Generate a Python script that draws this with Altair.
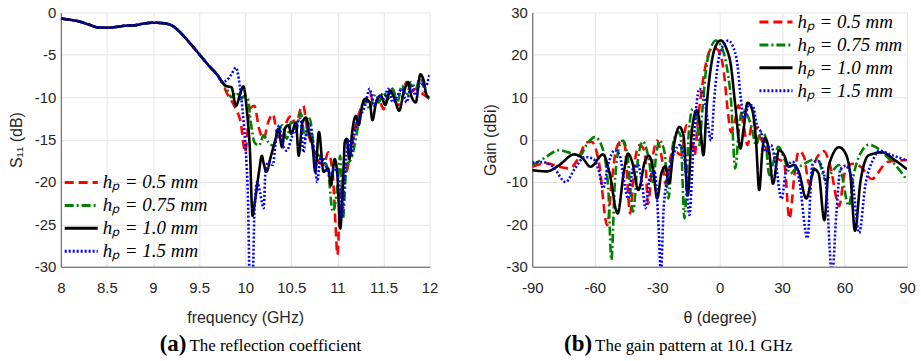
import altair as alt
import pandas as pd

# ---------------- data ----------------
series_labels = ["hₚ = 0.5 mm", "hₚ = 0.75 mm", "hₚ = 1.0 mm", "hₚ = 1.5 mm"]
series_colors = ["#ff0000", "#008000", "#000000", "#0000ff"]
series_dashes = [[9, 5], [9, 3, 2, 3], [1, 0], [2, 2]]

# common low-frequency part of S11 (all four curves overlap)
f_common = [8.0, 8.1, 8.2, 8.3, 8.4, 8.5, 8.6, 8.7, 8.8, 8.9, 9.0, 9.1, 9.2, 9.3,
            9.4, 9.5, 9.6, 9.7, 9.75]
s_common = [-0.7, -0.85, -1.05, -1.4, -1.75, -1.8, -1.7, -1.55, -1.5, -1.3, -1.2,
            -1.25, -1.5, -2.4, -3.6, -4.9, -6.2, -7.4, -8.2]

f_05 = [9.8, 9.85, 9.9, 9.95, 10.0, 10.05, 10.1, 10.15, 10.2, 10.25, 10.3, 10.35, 10.4,
        10.45, 10.5, 10.55, 10.6, 10.63, 10.67, 10.7, 10.75, 10.8, 10.85, 10.9, 10.95,
        10.98, 11.0, 11.03, 11.06, 11.1, 11.15, 11.2, 11.25, 11.3, 11.35, 11.4, 11.45,
        11.5, 11.55, 11.6, 11.65, 11.7, 11.75, 11.8, 11.85, 11.9, 11.95, 12.0]
s_05 = [-9.5, -10.4, -11.4, -12.9, -16.5, -11.4, -11.0, -13.7, -14.9, -12.9, -12.0, -14.5,
        -14.9, -12.9, -12.2, -13.3, -11.4, -11.0, -13.7, -14.9, -16.5, -17.6, -18.0, -16.5,
        -19.2, -25.1, -28.6, -22.0, -19.6, -18.8, -16.1, -13.3, -11.4, -10.6, -9.4, -11.0,
        -10.2, -11.4, -9.8, -9.0, -11.0, -10.2, -8.2, -9.4, -9.0, -9.4, -9.8, -10.2]

f_075 = [9.8, 9.85, 9.9, 9.95, 10.0, 10.03, 10.06, 10.1, 10.15, 10.2, 10.25, 10.3, 10.35,
         10.4, 10.45, 10.5, 10.55, 10.6, 10.65, 10.7, 10.75, 10.8, 10.85, 10.9, 10.95,
         11.0, 11.03, 11.06, 11.1, 11.15, 11.2, 11.25, 11.3, 11.35, 11.4, 11.45, 11.5,
         11.55, 11.6, 11.65, 11.7, 11.75, 11.8, 11.85, 11.9, 11.95, 12.0]
s_075 = [-9.0, -10.0, -9.4, -10.2, -9.8, -10.2, -12.9, -15.3, -15.7, -14.5, -15.3, -15.7,
         -14.5, -13.3, -14.9, -12.9, -14.1, -11.8, -14.9, -12.5, -16.1, -16.9, -17.3,
         -18.8, -23.5, -20.4, -16.9, -24.3, -18.0, -17.3, -14.9, -11.8, -10.2, -11.4,
         -9.8, -10.6, -9.4, -10.2, -9.0, -10.6, -8.6, -9.8, -8.2, -9.0, -7.5, -9.4, -10.2]

f_10 = [9.8, 9.85, 9.9, 9.95, 9.98, 10.02, 10.05, 10.08, 10.1, 10.15, 10.18, 10.2, 10.23,
        10.28, 10.33, 10.36, 10.4, 10.43, 10.47, 10.5, 10.55, 10.58, 10.62, 10.66, 10.7,
        10.73, 10.76, 10.8, 10.85, 10.9, 10.93, 10.97, 11.0, 11.03, 11.06, 11.08, 11.1,
        11.13, 11.16, 11.2, 11.23, 11.27, 11.3, 11.35, 11.38, 11.42, 11.47, 11.52, 11.57,
        11.62, 11.67, 11.72, 11.77, 11.8, 11.85, 11.9, 11.93, 11.97, 12.0]
s_10 = [-8.7, -8.8, -11.0, -9.4, -8.7, -11.8, -16.0, -24.0, -22.7, -18.8, -16.9, -17.8,
        -18.8, -16.9, -14.9, -13.7, -15.9, -13.7, -13.3, -14.3, -13.0, -16.9, -13.0, -12.4,
        -14.5, -15.7, -18.8, -14.1, -18.8, -18.4, -20.4, -17.3, -19.2, -25.5, -20.4, -15.3,
        -14.9, -17.3, -14.1, -12.2, -13.3, -10.9, -10.2, -10.6, -12.7, -10.6, -9.8, -10.9,
        -9.2, -10.2, -11.6, -9.4, -8.2, -9.8, -10.6, -7.3, -7.8, -9.8, -10.0]

f_15 = [9.8, 9.85, 9.9, 9.93, 9.97, 10.0, 10.03, 10.05, 10.08, 10.1, 10.13, 10.16, 10.2,
        10.22, 10.25, 10.3, 10.33, 10.37, 10.4, 10.45, 10.5, 10.55, 10.6, 10.63, 10.67,
        10.7, 10.75, 10.78, 10.82, 10.87, 10.92, 10.97, 11.02, 11.05, 11.08, 11.12, 11.15,
        11.18, 11.22, 11.3, 11.35, 11.4, 11.45, 11.5, 11.55, 11.6, 11.65, 11.7, 11.75,
        11.8, 11.85, 11.9, 11.95, 12.0]
s_15 = [-8.0, -7.3, -6.5, -7.8, -11.4, -15.3, -22.0, -32.0, -32.0, -23.5, -20.0, -21.2,
        -23.1, -18.8, -17.6, -18.0, -15.3, -13.3, -15.3, -16.3, -14.9, -13.3, -12.5, -16.5,
        -13.7, -13.3, -16.9, -20.0, -16.9, -18.0, -19.2, -18.4, -20.4, -24.3, -19.6, -14.9,
        -16.9, -14.5, -12.9, -11.0, -9.0, -11.0, -9.8, -10.2, -9.0, -10.6, -9.8, -9.0,
        -10.6, -8.6, -9.8, -8.2, -8.8, -7.3]

# gain pattern at 10.1 GHz
a_05 = [-90, -83, -77, -72, -68, -64, -61.5, -58, -54, -52, -49.6, -47, -45.6, -43, -41,
        -38.4, -36, -34.4, -32, -30, -28, -25.7, -23.3, -21, -18.5, -16, -13.7, -12, -10.5,
        -8.1, -5.7, -3.3, -1.3, 0.6, 2.2, 3.8, 5.4, 7, 9, 11.5, 13.4, 15.8, 18.2, 21.4,
        24.6, 27.8, 31, 33.5, 36, 38, 40.5, 43, 46, 50, 53, 57.4, 60, 63.7, 68, 73, 80.5, 90]
g_05 = [-6.4, -5.6, -6.4, -6.8, -4.5, -0.7, -0.5, -5.3, -20.2, -10.7, -2.1, -0.2, -1.3,
        -17.4, -6.0, -1.3, -2.9, -15.1, -3.7, -0.2, -3.7, -10.7, -3.7, -2.9, -3.7, 3.4, 2.6,
        -3.7, 4.2, 13.6, 19.8, 21.8, 21.4, 19.8, 15.1, 7.3, 1.8, 3.4, 8.1, 3.4, -1.3, 4.2,
        1.8, -1.3, -3.7, -4.5, -5.6, -18.7, -8.0, -2.7, -4.0, -10.5, -5.0, -2.7, -6.0,
        -15.7, -8.0, -5.7, -6.5, -9.3, -5.3, -4.8]

a_075 = [-90, -84.7, -77, -72, -67, -64, -60, -56.8, -53.6, -52, -50.4, -48, -46.4, -44.3,
         -41.6, -39.2, -36.8, -34.4, -32, -30.5, -28.9, -26.5, -24.6, -22.5, -20, -18.8,
         -16.9, -14.8, -12.9, -11, -9.7, -8.5, -6.5, -4.1, -1.8, 0.6, 3, 5.4, 7.5, 9.4, 11,
         13, 15.5, 17.4, 19.8, 21.8, 23.8, 25.8, 28.2, 31, 34, 36.5, 39.7, 43.7, 47, 50.9,
         54, 57.3, 62, 64.5, 67.6, 71.8, 74.8, 79.6, 84.4, 90]
g_075 = [-6.0, -4.5, -2.5, -3.1, -3.7, -1.3, 0.6, -1.3, -10.7, -28.4, -10.7, -1.3, -0.2,
         -3.7, -17.0, -4.5, -0.4, -3.7, -10.0, -3.7, -0.2, -2.9, -13.9, -1.3, 1.8, 1.0,
         -18.6, 1.8, 7.3, 4.9, -1.3, 5.7, 16.7, 21.8, 23.4, 22.2, 18.3, 9.6, -6.8, 3.4, 6.9,
         6.1, 2.6, -1.3, 1.8, 1.0, -8.4, -5.3, -1.7, -4.5, -8.0, -6.8, -6.0, -4.9, -4.5,
         -9.6, -7.6, -6.0, -15.6, -8.0, -3.3, -1.2, -1.7, -3.7, -6.0, -9.6]

a_10 = [-90, -83, -77, -70, -66, -62, -56, -53, -49, -46, -44, -42, -39, -36, -34, -32,
        -30, -28, -26, -24.4, -21.7, -19.3, -17.4, -15.3, -13.4, -11, -9.4, -7.8, -6.2,
        -4.1, -1.8, 0.6, 3, 5.4, 7.5, 10, 11.5, 13.4, 15.5, 17.4, 19, 20.6, 21.8, 23.8,
        25.6, 28.5, 31, 33.3, 35.7, 38, 41.6, 45.5, 47.5, 50.3, 52.5, 57.4, 60.5, 62.8, 65,
        67.6, 71.6, 78, 84, 90]
g_10 = [-7.2, -7.5, -6.0, -3.5, -4.3, -6.4, -3.5, -7.6, -17.4, -7.6, -3.3, -5.3, -11.9,
        -5.3, -3.8, -6.8, -13.9, -8.0, -6.3, -10.4, -0.5, 3.0, 1.0, -13.1, 1.8, 6.9, 3.4,
        -3.7, 8.1, 17.5, 22.2, 23.4, 21.8, 17.5, 8.1, -2.1, 2.6, 8.7, 7.3, 0.2, -11.9,
        -2.1, 0.4, -2.9, -10.4, -2.5, -3.7, -6.4, -6.0, -7.6, -13.9, -7.0, -8.0, -19.0,
        -6.0, -1.8, -3.3, -8.4, -21.5, -10.0, -3.7, -3.0, -4.8, -7.0]

a_15 = [-90, -85, -80, -74, -69.5, -64.8, -60.8, -57.9, -56, -53.6, -50.4, -48, -45.6, -44,
        -41.6, -39.2, -37.2, -35.6, -33.7, -31.3, -29.2, -28.2, -27, -25.7, -23.8, -21.7,
        -19.3, -16.9, -14.5, -12.9, -11.3, -9.7, -7.3, -4.1, -2.6, -0.2, 2.2, 4.1, 6.2, 8.6,
        10.2, 11.8, 13.9, 15.8, 17.9, 19.8, 22.2, 24.6, 27, 29.7, 32, 35, 38.1, 42.2, 44.5,
        47, 50.9, 54, 56, 58, 60.5, 63.6, 67, 70, 73.9, 76.6, 82.8, 90]
g_15 = [-5.4, -5.3, -6.4, -10.0, -6.8, -4.1, -4.5, -7.6, -11.5, -6.0, -2.5, -3.7, -10.7,
        -13.9, -6.8, -6.0, -10.7, -16.2, -9.2, -7.6, -21.7, -32.0, -17.0, -10.7, -6.0,
        -2.9, -1.3, -4.5, -17.8, -4.5, 7.3, 12.0, 9.6, -0.2, 9.6, 19.8, 22.6, 23.4, 22.2,
        17.5, 9.6, 4.9, 8.1, 8.1, 3.4, 1.8, -2.9, -1.3, -6.0, -14.0, -7.0, -5.2, -9.2,
        -23.3, -6.0, -5.0, -10.0, -32.0, -17.8, -7.0, -6.2, -9.2, -22.0, -10.7, -4.5, -2.6,
        -3.7, -4.9]

freq_ticks = [8, 8.5, 9, 9.5, 10, 10.5, 11, 11.5, 12]
s11_ticks = [-30, -25, -20, -15, -10, -5, 0]
theta_ticks = [-90, -60, -30, 0, 30, 60, 90]
gain_ticks = [-30, -20, -10, 0, 10, 20, 30]

caption_a = ["(a)", "The reflection coefficient"]
caption_b = ["(b)", "The gain pattern at 10.1 GHz"]

# ---------------- tables ----------------
rows_l = []
for lab, fs, ss in zip(series_labels, [f_05, f_075, f_10, f_15], [s_05, s_075, s_10, s_15]):
    for i, (f, s) in enumerate(zip(f_common + fs, s_common + ss)):
        rows_l.append({"f": f, "s": s, "series": lab, "order": i})
df_l = pd.DataFrame(rows_l)

rows_r = []
for lab, aa, gg in zip(series_labels, [a_05, a_075, a_10, a_15], [g_05, g_075, g_10, g_15]):
    for i, (a, g) in enumerate(zip(aa, gg)):
        rows_r.append({"a": a, "g": g, "series": lab, "order": i})
df_r = pd.DataFrame(rows_r)

axis_common = dict(labelFont="Liberation Sans", labelFontSize=15, titleFont="Liberation Sans",
                   titleFontSize=16, titleFontWeight="normal", labelColor="#262626",
                   titleColor="#262626", gridColor="#e4e4e4", domainColor="#555555",
                   ticks=False, labelFlush=False, labelOverlap=False,
                   labelExpr="'' + datum.value")


def legend(x, y):
    return alt.Legend(title=None, orient="none", legendX=x, legendY=y,
                      symbolType="stroke", symbolSize=1100, symbolStrokeWidth=3,
                      labelFont="Liberation Serif", labelFontSize=19,
                      labelFontStyle="italic", labelColor="#000000", rowPadding=2,
                      clipHeight=21, labelOffset=3, padding=0)


def line_layer(df, xf, yf, xdom, ydom, xticks, yticks, xtitle, ytitle, lx, ly,
               ytitle_pad):
    return alt.Chart(df).mark_line(strokeWidth=2.6, clip=True, interpolate="monotone").encode(
        x=alt.X(f"{xf}:Q", scale=alt.Scale(domain=xdom, nice=False, zero=False),
                axis=alt.Axis(values=xticks, title=xtitle, labelPadding=14,
                              titlePadding=14, **axis_common)),
        y=alt.Y(f"{yf}:Q", scale=alt.Scale(domain=ydom, nice=False, zero=False),
                axis=alt.Axis(values=yticks, title=ytitle, labelPadding=5,
                              titlePadding=ytitle_pad, **axis_common)),
        color=alt.Color("series:N", scale=alt.Scale(domain=series_labels, range=series_colors),
                        legend=legend(lx, ly)),
        strokeDash=alt.StrokeDash("series:N",
                                  scale=alt.Scale(domain=series_labels, range=series_dashes),
                                  legend=legend(lx, ly)),
        order="order:Q",
    )


def caption(texts, xr, y):
    lab = alt.Chart(pd.DataFrame({"t": [texts[0]]})).mark_text(
        font="Liberation Serif", fontSize=23, fontWeight="bold", align="right",
        baseline="alphabetic", color="#000000").encode(
        text="t:N", x=alt.value(xr), y=alt.value(y))
    txt = alt.Chart(pd.DataFrame({"t": [texts[1]]})).mark_text(
        font="Liberation Serif", fontSize=17, align="left", baseline="alphabetic",
        color="#000000").encode(
        text="t:N", x=alt.value(xr + 3), y=alt.value(y))
    return [lab, txt]


left = alt.layer(
    line_layer(df_l, "f", "s", [8, 12], [-30, 0], freq_ticks, s11_ticks,
               "frequency (GHz)", "S₁₁ (dB)", 2, 160, 10),
    *caption(caption_a, 126, 340),
).properties(width=370, height=255)

right = alt.layer(
    line_layer(df_r, "a", "g", [-90, 90], [-30, 30], theta_ticks, gain_ticks,
               "θ (degree)", "Gain (dBi)", 226, -1, 7),
    *caption(caption_b, 60, 340),
).properties(width=376, height=255)

chart = alt.hconcat(left, right, spacing=44).resolve_scale(
    color="independent", strokeDash="independent"
).resolve_legend(
    color="independent", strokeDash="independent"
).properties(
    padding={"left": 8, "top": 5, "right": 5, "bottom": 0},
    background="white",
).configure_view(stroke=None)

chart.save("out.html", embed_options={"renderer": "svg", "actions": False})
